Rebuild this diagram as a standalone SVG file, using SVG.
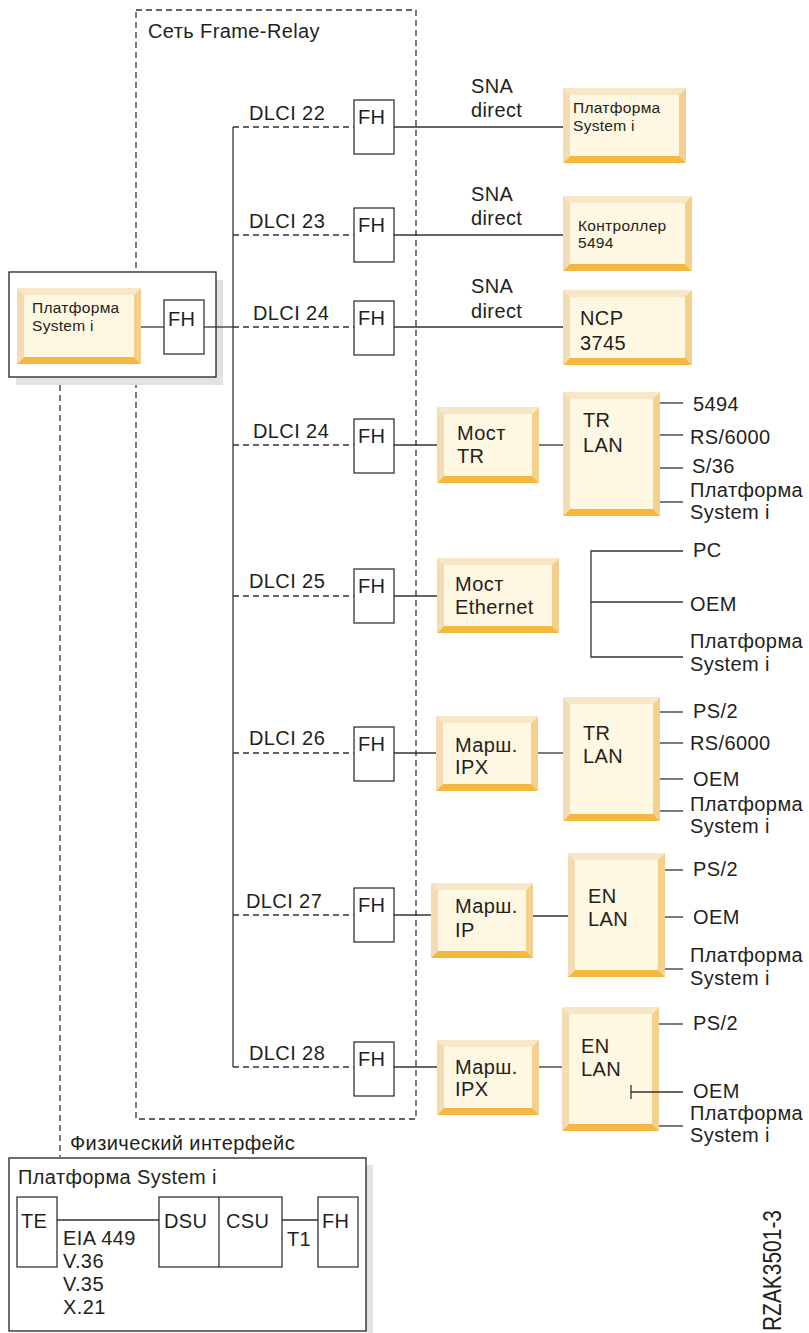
<svg xmlns="http://www.w3.org/2000/svg" width="809" height="1333" viewBox="0 0 809 1333">
<style>
text{font-family:"Liberation Sans",Arial,sans-serif;fill:#231f20}
.t18{font-size:20px;letter-spacing:0.4px}
.t14{font-size:15.5px;letter-spacing:0.3px}
.ln{stroke:#333;stroke-width:1.3;fill:none}
.dl{stroke:#333;stroke-width:1.3;fill:none;stroke-dasharray:6 4}
.fh{fill:#fff;stroke:#333;stroke-width:1.3}
.bx{fill:#fff;stroke:#222;stroke-width:1.3}
.sh{fill:#e2e2e2}
.bi{fill:#fef7e1}
.bt{fill:#f7e7c6}
.bl{fill:#f3dcb3}
.br{fill:#f5cf8c}
.bb{fill:#f4b840}
</style>

<g id="frame-relay-network">
<rect x="136" y="10" width="280" height="1109" class="dl"/>
<text x="148" y="38" class="t18">Сеть Frame-Relay</text>
</g>

<g id="left-system">
<rect x="16" y="280" width="207" height="105" class="sh"/>
<rect x="9" y="272" width="207" height="105" class="bx"/>
<polygon points="17,288 141,288 134,295 24,295" class="bt"/>
<polygon points="17,288 24,295 24,357 17,364" class="bl"/>
<polygon points="141,288 141,364 134,357 134,295" class="br"/>
<polygon points="17,364 24,357 134,357 141,364" class="bb"/>
<rect x="24" y="295" width="110" height="62" class="bi"/>
<text x="32" y="313" class="t14">Платформа</text>
<text x="32" y="331" class="t14">System i</text>
<rect x="164" y="300" width="40" height="54" class="fh"/>
<text x="168" y="326" class="t18">FH</text>
</g>

<g id="dlci22">
<text x="249" y="120" class="t18">DLCI 22</text>
<rect x="354" y="100" width="40" height="54" class="fh"/>
<text x="358" y="124" class="t18">FH</text>
<text x="471" y="93" class="t18">SNA</text>
<text x="471" y="117" class="t18">direct</text>
</g>
<g id="sys-r1">
<polygon points="563,88 686,88 679,95 570,95" class="bt"/>
<polygon points="563,88 570,95 570,156 563,163" class="bl"/>
<polygon points="686,88 686,163 679,156 679,95" class="br"/>
<polygon points="563,163 570,156 679,156 686,163" class="bb"/>
<rect x="570" y="95" width="109" height="61" class="bi"/>
<text x="573" y="113" class="t14">Платформа</text>
<text x="573" y="131" class="t14">System i</text>
</g>

<g id="dlci23">
<text x="249" y="228" class="t18">DLCI 23</text>
<rect x="354" y="208" width="40" height="54" class="fh"/>
<text x="358" y="232" class="t18">FH</text>
<text x="471" y="201" class="t18">SNA</text>
<text x="471" y="225" class="t18">direct</text>
</g>
<g id="ctrl5494">
<polygon points="563,196 692,196 685,203 570,203" class="bt"/>
<polygon points="563,196 570,203 570,264 563,271" class="bl"/>
<polygon points="692,196 692,271 685,264 685,203" class="br"/>
<polygon points="563,271 570,264 685,264 692,271" class="bb"/>
<rect x="570" y="203" width="115" height="61" class="bi"/>
<text x="578" y="231" class="t14">Контроллер</text>
<text x="578" y="248" class="t14">5494</text>
</g>

<g id="dlci24a">
<text x="253" y="320" class="t18">DLCI 24</text>
<rect x="354" y="301" width="40" height="54" class="fh"/>
<text x="358" y="325" class="t18">FH</text>
<text x="471" y="293" class="t18">SNA</text>
<text x="471" y="318" class="t18">direct</text>
</g>
<g id="ncp3745">
<polygon points="563,290 692,290 685,297 570,297" class="bt"/>
<polygon points="563,290 570,297 570,358 563,365" class="bl"/>
<polygon points="692,290 692,365 685,358 685,297" class="br"/>
<polygon points="563,365 570,358 685,358 692,365" class="bb"/>
<rect x="570" y="297" width="115" height="61" class="bi"/>
<text x="580" y="325" class="t18">NCP</text>
<text x="580" y="350" class="t18">3745</text>
</g>

<g id="dlci24b">
<text x="253" y="438" class="t18">DLCI 24</text>
<rect x="354" y="419" width="40" height="54" class="fh"/>
<text x="358" y="443" class="t18">FH</text>
</g>
<g id="bridge-tr">
<polygon points="437,407 539,407 532,414 444,414" class="bt"/>
<polygon points="437,407 444,414 444,476 437,483" class="bl"/>
<polygon points="539,407 539,483 532,476 532,414" class="br"/>
<polygon points="437,483 444,476 532,476 539,483" class="bb"/>
<rect x="444" y="414" width="88" height="62" class="bi"/>
<text x="457" y="440" class="t18">Мост</text>
<text x="457" y="463" class="t18">TR</text>
</g>
<g id="trlan1">
<polygon points="563,392 660,392 653,399 570,399" class="bt"/>
<polygon points="563,392 570,399 570,509 563,516" class="bl"/>
<polygon points="660,392 660,516 653,509 653,399" class="br"/>
<polygon points="563,516 570,509 653,509 660,516" class="bb"/>
<rect x="570" y="399" width="83" height="110" class="bi"/>
<text x="583" y="427" class="t18">TR</text>
<text x="583" y="452" class="t18">LAN</text>
<text x="693" y="411" class="t18">5494</text>
<text x="690" y="444" class="t18">RS/6000</text>
<text x="692" y="473" class="t18">S/36</text>
<text x="690" y="497" class="t18">Платформа</text>
<text x="690" y="519" class="t18">System i</text>
</g>

<g id="dlci25">
<text x="249" y="588" class="t18">DLCI 25</text>
<rect x="354" y="569" width="40" height="54" class="fh"/>
<text x="358" y="593" class="t18">FH</text>
</g>
<g id="bridge-eth">
<polygon points="437,558 559,558 552,565 444,565" class="bt"/>
<polygon points="437,558 444,565 444,626 437,633" class="bl"/>
<polygon points="559,558 559,633 552,626 552,565" class="br"/>
<polygon points="437,633 444,626 552,626 559,633" class="bb"/>
<rect x="444" y="565" width="108" height="61" class="bi"/>
<text x="455" y="591" class="t18">Мост</text>
<text x="455" y="614" class="t18">Ethernet</text>
<text x="693" y="557" class="t18">PC</text>
<text x="690" y="611" class="t18">OEM</text>
<text x="690" y="648" class="t18">Платформа</text>
<text x="690" y="671" class="t18">System i</text>
</g>

<g id="dlci26">
<text x="249" y="745" class="t18">DLCI 26</text>
<rect x="354" y="727" width="40" height="54" class="fh"/>
<text x="358" y="751" class="t18">FH</text>
</g>
<g id="router-ipx1">
<polygon points="436,716 538,716 531,723 443,723" class="bt"/>
<polygon points="436,716 443,723 443,784 436,791" class="bl"/>
<polygon points="538,716 538,791 531,784 531,723" class="br"/>
<polygon points="436,791 443,784 531,784 538,791" class="bb"/>
<rect x="443" y="723" width="88" height="61" class="bi"/>
<text x="455" y="752" class="t18">Марш.</text>
<text x="455" y="774" class="t18">IPX</text>
</g>
<g id="trlan2">
<polygon points="563,697 660,697 653,704 570,704" class="bt"/>
<polygon points="563,697 570,704 570,814 563,821" class="bl"/>
<polygon points="660,697 660,821 653,814 653,704" class="br"/>
<polygon points="563,821 570,814 653,814 660,821" class="bb"/>
<rect x="570" y="704" width="83" height="110" class="bi"/>
<text x="583" y="740" class="t18">TR</text>
<text x="583" y="763" class="t18">LAN</text>
<text x="693" y="718" class="t18">PS/2</text>
<text x="690" y="750" class="t18">RS/6000</text>
<text x="693" y="786" class="t18">OEM</text>
<text x="690" y="811" class="t18">Платформа</text>
<text x="690" y="833" class="t18">System i</text>
</g>

<g id="dlci27">
<text x="246" y="908" class="t18">DLCI 27</text>
<rect x="354" y="888" width="40" height="54" class="fh"/>
<text x="358" y="912" class="t18">FH</text>
</g>
<g id="router-ip">
<polygon points="431,883 533,883 526,890 438,890" class="bt"/>
<polygon points="431,883 438,890 438,951 431,958" class="bl"/>
<polygon points="533,883 533,958 526,951 526,890" class="br"/>
<polygon points="431,958 438,951 526,951 533,958" class="bb"/>
<rect x="438" y="890" width="88" height="61" class="bi"/>
<text x="455" y="913" class="t18">Марш.</text>
<text x="455" y="937" class="t18">IP</text>
</g>
<g id="enlan1">
<polygon points="568,853 665,853 658,860 575,860" class="bt"/>
<polygon points="568,853 575,860 575,970 568,977" class="bl"/>
<polygon points="665,853 665,977 658,970 658,860" class="br"/>
<polygon points="568,977 575,970 658,970 665,977" class="bb"/>
<rect x="575" y="860" width="83" height="110" class="bi"/>
<text x="588" y="903" class="t18">EN</text>
<text x="588" y="926" class="t18">LAN</text>
<text x="693" y="876" class="t18">PS/2</text>
<text x="693" y="924" class="t18">OEM</text>
<text x="690" y="962" class="t18">Платформа</text>
<text x="690" y="985" class="t18">System i</text>
</g>

<g id="dlci28">
<text x="249" y="1060" class="t18">DLCI 28</text>
<rect x="354" y="1042" width="40" height="54" class="fh"/>
<text x="358" y="1066" class="t18">FH</text>
</g>
<g id="router-ipx2">
<polygon points="437,1040 539,1040 532,1047 444,1047" class="bt"/>
<polygon points="437,1040 444,1047 444,1108 437,1115" class="bl"/>
<polygon points="539,1040 539,1115 532,1108 532,1047" class="br"/>
<polygon points="437,1115 444,1108 532,1108 539,1115" class="bb"/>
<rect x="444" y="1047" width="88" height="61" class="bi"/>
<text x="455" y="1074" class="t18">Марш.</text>
<text x="455" y="1096" class="t18">IPX</text>
</g>
<g id="enlan2">
<polygon points="562,1007 659,1007 652,1014 569,1014" class="bt"/>
<polygon points="562,1007 569,1014 569,1124 562,1131" class="bl"/>
<polygon points="659,1007 659,1131 652,1124 652,1014" class="br"/>
<polygon points="562,1131 569,1124 652,1124 659,1131" class="bb"/>
<rect x="569" y="1014" width="83" height="110" class="bi"/>
<text x="581" y="1053" class="t18">EN</text>
<text x="581" y="1076" class="t18">LAN</text>
<text x="693" y="1030" class="t18">PS/2</text>
<text x="693" y="1098" class="t18">OEM</text>
<text x="690" y="1120" class="t18">Платформа</text>
<text x="690" y="1142" class="t18">System i</text>
</g>

<g id="physical-interface">
<text x="70" y="1150" class="t18">Физический интерфейс</text>
<rect x="366" y="1165" width="7" height="168" class="sh"/>
<rect x="9" y="1158" width="357" height="173" class="bx"/>
<text x="18" y="1184" class="t18">Платформа System i</text>
<rect x="17" y="1197" width="40" height="70" class="fh"/>
<text x="21" y="1228" class="t18">TE</text>
<rect x="159" y="1197" width="123" height="70" class="fh"/>
<line x1="219" y1="1197" x2="219" y2="1267" class="ln"/>
<text x="164" y="1228" class="t18">DSU</text>
<text x="226" y="1228" class="t18">CSU</text>
<text x="287" y="1246" class="t18">T1</text>
<rect x="318" y="1197" width="40" height="70" class="fh"/>
<text x="322" y="1228" class="t18">FH</text>
<text x="63" y="1245" class="t18">EIA 449</text>
<text x="63" y="1268" class="t18">V.36</text>
<text x="63" y="1291" class="t18">V.35</text>
<text x="63" y="1314" class="t18">X.21</text>
</g>

<g id="figure-id">
<text transform="translate(781,1331) rotate(-90)" font-size="25" textLength="121" lengthAdjust="spacingAndGlyphs">RZAK3501-3</text>
</g>

<g id="connectors">
<line x1="233" y1="127" x2="233" y2="1067" class="ln"/>
<line x1="233" y1="127" x2="354" y2="127" class="dl"/>
<line x1="233" y1="235" x2="354" y2="235" class="dl"/>
<line x1="233" y1="327" x2="354" y2="327" class="dl"/>
<line x1="233" y1="445" x2="354" y2="445" class="dl"/>
<line x1="233" y1="596" x2="354" y2="596" class="dl"/>
<line x1="233" y1="753" x2="354" y2="753" class="dl"/>
<line x1="233" y1="915" x2="354" y2="915" class="dl"/>
<line x1="233" y1="1067" x2="354" y2="1067" class="dl"/>
<line x1="394" y1="127" x2="563" y2="127" class="ln"/>
<line x1="394" y1="235" x2="563" y2="235" class="ln"/>
<line x1="394" y1="327" x2="563" y2="327" class="ln"/>
<line x1="394" y1="445" x2="437" y2="445" class="ln"/>
<line x1="539" y1="445" x2="563" y2="445" class="ln"/>
<line x1="394" y1="596" x2="437" y2="596" class="ln"/>
<line x1="394" y1="753" x2="436" y2="753" class="ln"/>
<line x1="538" y1="753" x2="563" y2="753" class="ln"/>
<line x1="394" y1="915" x2="431" y2="915" class="ln"/>
<line x1="533" y1="916" x2="568" y2="916" class="ln"/>
<line x1="394" y1="1067" x2="437" y2="1067" class="ln"/>
<line x1="539" y1="1067" x2="562" y2="1067" class="ln"/>
<line x1="141" y1="327" x2="164" y2="327" class="ln"/>
<line x1="204" y1="327" x2="233" y2="327" class="ln"/>
<line x1="60" y1="385" x2="60" y2="1157" class="dl"/>
<line x1="660" y1="403" x2="683" y2="403" class="ln"/>
<line x1="660" y1="435" x2="683" y2="435" class="ln"/>
<line x1="660" y1="468" x2="683" y2="468" class="ln"/>
<line x1="660" y1="502" x2="683" y2="502" class="ln"/>
<polyline points="683,551 591,551 591,657 683,657" class="ln"/>
<line x1="591" y1="602" x2="683" y2="602" class="ln"/>
<line x1="660" y1="712" x2="683" y2="712" class="ln"/>
<line x1="660" y1="743" x2="683" y2="743" class="ln"/>
<line x1="660" y1="779" x2="683" y2="779" class="ln"/>
<line x1="660" y1="811" x2="683" y2="811" class="ln"/>
<line x1="665" y1="870" x2="683" y2="870" class="ln"/>
<line x1="665" y1="917" x2="683" y2="917" class="ln"/>
<line x1="665" y1="969" x2="683" y2="969" class="ln"/>
<line x1="659" y1="1024" x2="683" y2="1024" class="ln"/>
<line x1="631" y1="1092" x2="683" y2="1092" class="ln"/>
<line x1="631" y1="1085" x2="631" y2="1099" class="ln"/>
<line x1="659" y1="1126" x2="683" y2="1126" class="ln"/>
<line x1="57" y1="1220" x2="159" y2="1220" class="ln"/>
<line x1="282" y1="1220" x2="318" y2="1220" class="ln"/>
</g>
</svg>
